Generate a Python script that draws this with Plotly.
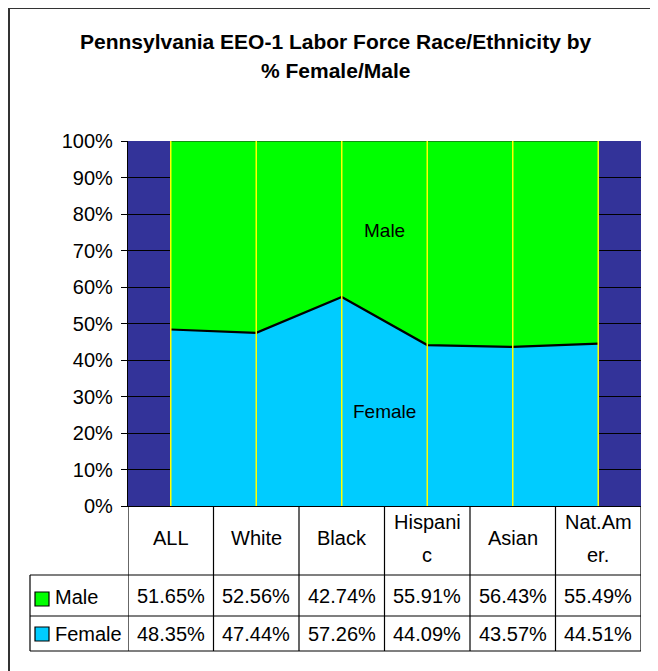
import plotly.graph_objects as go

categories = ["ALL", "White", "Black", "Hispanic", "Asian", "Nat.Amer."]
header_labels = ["ALL", "White", "Black", "Hispani<br>c", "Asian", "Nat.Am<br>er."]
male_pct = [51.65, 52.56, 42.74, 55.91, 56.43, 55.49]
female_pct = [48.35, 47.44, 57.26, 44.09, 43.57, 44.51]
y_ticks = [0, 10, 20, 30, 40, 50, 60, 70, 80, 90, 100]

FONT = "Liberation Sans, Arial, sans-serif"
OFF = 8  # page body margin
W, H = 658 - OFF, 671 - OFF
PL, PR, PT, PB = 128, 641, 141, 506  # plot area in page pixels
L, T = PL - OFF, PT - OFF
R, B = W - (PR - OFF), H - (PB - OFF)
PW, PH = W - L - R, H - T - B


def px_x(px):
    return (px - OFF - L) / PW


def px_y(py):
    return (H - B - (py - OFF)) / PH


xs = list(range(len(categories)))

fig = go.Figure()
fig.add_trace(go.Scatter(
    x=xs, y=female_pct, name="Female", stackgroup="one", mode="lines",
    line=dict(color="black", width=2.2), fillcolor="#00CCFF", hoverinfo="skip"))
fig.add_trace(go.Scatter(
    x=xs, y=male_pct, name="Male", stackgroup="one", mode="lines",
    line=dict(color="#222222", width=1.2), fillcolor="#00FF00", hoverinfo="skip"))

shapes = []
for i in xs:
    shapes.append(dict(type="line", xref="x", yref="y", x0=i, x1=i, y0=0, y1=100,
                       line=dict(color="#FFFF00", width=1.5), layer="above"))

tbl_top, hdr_bot, male_bot, fem_bot = 506, 575, 616, 651
leg_left = 30
n = len(categories)
for k in range(n + 1):
    shapes.append(dict(type="line", xref="x", yref="paper", x0=k - 0.5, x1=k - 0.5,
                       y0=px_y(tbl_top), y1=px_y(fem_bot), line=dict(color="black", width=1.2)))
for py in (hdr_bot, male_bot, fem_bot):
    shapes.append(dict(type="line", xref="paper", yref="paper", x0=px_x(leg_left), x1=1,
                       y0=px_y(py), y1=px_y(py), line=dict(color="black", width=1.2)))
shapes.append(dict(type="line", xref="paper", yref="paper", x0=px_x(leg_left), x1=px_x(leg_left),
                   y0=px_y(hdr_bot), y1=px_y(fem_bot), line=dict(color="black", width=1.2)))
for (y0, y1, col) in ((592, 606, "#00FF00"), (627, 641, "#00CCFF")):
    shapes.append(dict(type="rect", xref="paper", yref="paper", x0=px_x(35), x1=px_x(49),
                       y0=px_y(y1), y1=px_y(y0), fillcolor=col,
                       line=dict(color="black", width=1.2)))
# outer frame (top and left edges visible)
shapes.append(dict(type="line", xref="paper", yref="paper", x0=px_x(8), x1=px_x(658),
                   y0=px_y(8), y1=px_y(8), line=dict(color="#333333", width=2)))
shapes.append(dict(type="line", xref="paper", yref="paper", x0=px_x(9), x1=px_x(9),
                   y0=px_y(7), y1=px_y(671), line=dict(color="#333333", width=2)))

ann = []
tf = dict(family=FONT, size=20, color="black")


def add_text(text, x, y, xref="paper", yref="paper", font=tf, xanchor="center"):
    ann.append(dict(text=text, xref=xref, yref=yref, x=x, y=y, showarrow=False,
                    xanchor=xanchor, yanchor="middle", font=font))


titlef = dict(family=FONT, size=21, color="black")
add_text("<b>Pennsylvania EEO-1 Labor Force Race/Ethnicity by</b>", px_x(335), px_y(41), font=titlef)
add_text("<b>% Female/Male</b>", px_x(335), px_y(70), font=titlef)

labf = dict(family=FONT, size=19, color="black")
add_text("Male", 2.5, 75.6, xref="x", yref="y", font=labf)
add_text("Female", 2.5, 25.8, xref="x", yref="y", font=labf)

for i, lab in enumerate(header_labels):
    parts = lab.split("<br>")
    ys = [538] if len(parts) == 1 else [522, 555]
    for part, py in zip(parts, ys):
        add_text(part, i, px_y(py), xref="x")

for i in xs:
    add_text(f"{male_pct[i]:.2f}%", i, px_y(596), xref="x")
    add_text(f"{female_pct[i]:.2f}%", i, px_y(634), xref="x")

add_text("Male", px_x(53), px_y(597), xanchor="left")
add_text("Female", px_x(53), px_y(634), xanchor="left")

fig.update_layout(
    width=W, height=H,
    margin=dict(l=L, r=R, t=T, b=B, pad=0),
    paper_bgcolor="white",
    plot_bgcolor="#333399",
    showlegend=False,
    shapes=shapes,
    annotations=ann,
    xaxis=dict(range=[-0.5, n - 0.5], showgrid=False, zeroline=False, showticklabels=False,
               showline=True, linecolor="black", linewidth=1.2, ticks=""),
    yaxis=dict(range=[0, 100], tickvals=y_ticks, ticktext=[f"{v}%" for v in y_ticks],
               showgrid=True, gridcolor="black", gridwidth=1, zeroline=False,
               showline=True, linecolor="black", linewidth=1.2,
               ticks="outside", ticklen=6, tickcolor="black",
               tickfont=dict(family=FONT, size=20, color="black"), ticklabelstandoff=4),
)

fig.write_html("out.html")
